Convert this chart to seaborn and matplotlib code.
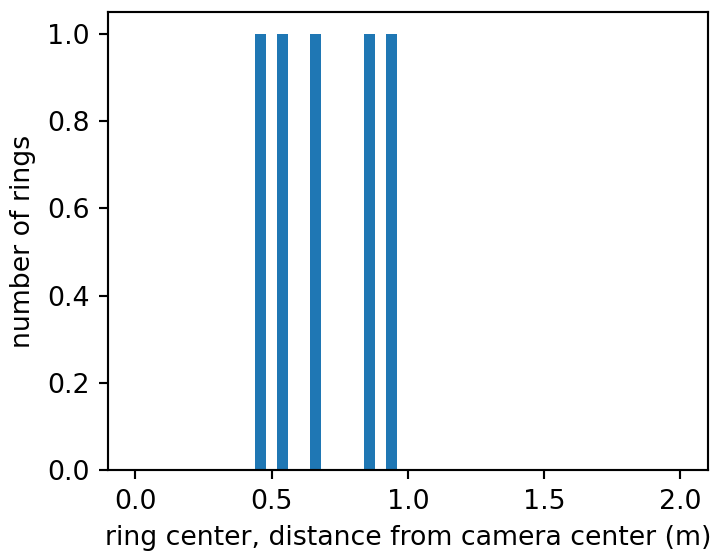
import numpy as np
import pandas as pd
from matplotlib import pyplot as plt
import seaborn as sns

# ring center distances (m), one entry per ring
ring_distance = [0.46, 0.54, 0.66, 0.86, 0.94]
ring_id = ['r1', 'r2', 'r3', 'r4', 'r5']

df = pd.DataFrame({'ring': ring_id, 'distance': ring_distance})

plt.rcParams['font.family'] = ['DejaVu Sans']
fig, ax = plt.subplots(figsize=(712 / 193, 551 / 193), dpi=193)

sns.histplot(data=df, x='distance', binwidth=0.04, binrange=(0, 2),
             color='#1f77b4', alpha=1, edgecolor='none', linewidth=0, ax=ax)
ax.set_xlim(-0.1, 2.1)
ax.set_ylim(0, 1.05)
ax.set_xticks([0.0, 0.5, 1.0, 1.5, 2.0])
ax.set_yticks([0.0, 0.2, 0.4, 0.6, 0.8, 1.0])
ax.set_xlabel('ring center, distance from camera center (m)')
ax.set_ylabel('number of rings')

plt.subplots_adjust(left=0.152, right=0.994, top=0.978, bottom=0.147)
plt.savefig('out.png')
